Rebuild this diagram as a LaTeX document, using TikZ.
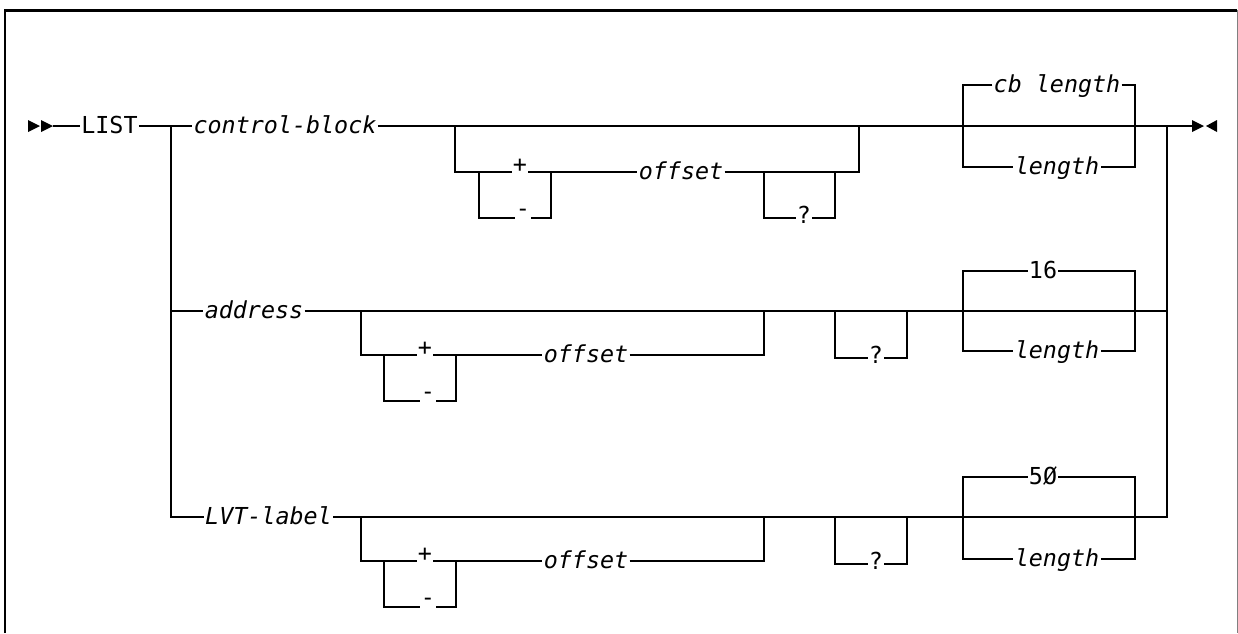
\documentclass[tikz,border=0pt]{standalone}
\usepackage{fontspec}
\setmonofont{DejaVu Sans Mono}[ItalicFont=* Oblique]
\usepackage{tikz}

\begin{document}
\begin{tikzpicture}[x=0.02cm, y=-0.02cm, line width=0.04cm,
  word/.style={inner xsep=0.2pt, inner ysep=0pt, text height=8.2pt, text depth=0pt,
               font=\fontsize{13.3pt}{16pt}\selectfont\ttfamily},
  var/.style={word, font=\fontsize{13.3pt}{16pt}\selectfont\ttfamily\itshape},
  frame/.style={line width=0.06cm}]
  \useasboundingbox (0,0) rectangle (1238,633);
  \draw[frame] (5,633) -- (5,10) -- (1237,10);
  \draw[gray, line width=0.02cm] (1237,10) -- (1237,633);

  \coordinate (start) at (53,126);
  \coordinate (split) at (171,126);
  \coordinate (join) at (1167,126);
  \coordinate (stop) at (1192,126);
  \node[word] (list) at (109.5,126) {LIST};
  \node[var] (cblock) at (285,126) {control-block};
  \node[var] (addr) at (254,311) {address};
  \node[var] (lvt) at (268.5,517) {LVT-label};

  \fill (start) -- ++(-12,-6) -- ++(0,12) -- cycle;
  \fill (start) ++(-13,0) -- ++(-12,-6) -- ++(0,12) -- cycle;
  \fill (stop) ++(0,-6) -- ++(12,6) -- ++(-12,6) -- cycle;
  \fill (stop) ++(14,0) -- ++(11,-6) -- ++(0,12) -- cycle;

  \draw (start) -- (list.west);
  \draw (list.east) -- (cblock.west);
  \draw (cblock.east) -- (stop);
  \draw (split) |- (addr.west);
  \draw (split) |- (lvt.west);
  \draw (addr.east) -- (join |- addr);
  \draw (lvt.east) -- (join |- lvt) -- (join);

  % control-block
  \coordinate (ob1) at (455,126);
  \coordinate (oj1) at (859,126);
  \coordinate (pm1) at (479,172);
  \coordinate (pr1) at (551,172);
  \coordinate (ql1) at (764,172);
  \coordinate (qr1) at (835,172);
  \coordinate (bl1) at (963,126);
  \coordinate (br1) at (1135,126);
  \node[word] (plus1) at (520,172) {\raisebox{0.3em}{+}};
  \node[word] (minus1) at (523,218) {\raisebox{0.38em}{-}};
  \node[var] (off1) at (681,172) {offset};
  \node[word] (q1) at (804,218) {\raisebox{0.07em}{?}};
  \node[var] (cbl) at (1057,85) {cb length};
  \node[var] (len1) at (1057,167) {length};
  \draw (ob1) |- (plus1.west);
  \draw (plus1.east) -- (off1.west);
  \draw (off1.east) -| (oj1);
  \draw (pm1) |- (minus1.west);
  \draw (minus1.east) -| (pr1);
  \draw (ql1) |- (q1.west);
  \draw (q1.east) -| (qr1);
  \draw (cbl.west) -| (bl1) |- (len1.west);
  \draw (cbl.east) -| (br1) |- (len1.east);

  % address
  \coordinate (ob2) at (361,311);
  \coordinate (oj2) at (764,311);
  \coordinate (pm2) at (384,355);
  \coordinate (pr2) at (456,355);
  \coordinate (ql2) at (835,311);
  \coordinate (qr2) at (907,311);
  \coordinate (bl2) at (963,311);
  \coordinate (br2) at (1135,311);
  \node[word] (plus2) at (425,355) {\raisebox{0.3em}{+}};
  \node[word] (minus2) at (428,401) {\raisebox{0.38em}{-}};
  \node[var] (off2) at (586,355) {offset};
  \node[word] (q2) at (876,358) {\raisebox{0.07em}{?}};
  \node[word] (n16) at (1043,271) {16};
  \node[var] (len2) at (1057,351) {length};
  \draw (ob2) |- (plus2.west);
  \draw (plus2.east) -- (off2.west);
  \draw (off2.east) -| (oj2);
  \draw (pm2) |- (minus2.west);
  \draw (minus2.east) -| (pr2);
  \draw (ql2) |- (q2.west);
  \draw (q2.east) -| (qr2);
  \draw (n16.west) -| (bl2) |- (len2.west);
  \draw (n16.east) -| (br2) |- (len2.east);

  % LVT-label
  \coordinate (ob3) at (361,517);
  \coordinate (oj3) at (764,517);
  \coordinate (pm3) at (384,561);
  \coordinate (pr3) at (456,561);
  \coordinate (ql3) at (835,517);
  \coordinate (qr3) at (907,517);
  \coordinate (bl3) at (963,517);
  \coordinate (br3) at (1135,517);
  \node[word] (plus3) at (425,561) {\raisebox{0.3em}{+}};
  \node[word] (minus3) at (428,607) {\raisebox{0.38em}{-}};
  \node[var] (off3) at (586,561) {offset};
  \node[word] (q3) at (876,564) {\raisebox{0.07em}{?}};
  \node[word] (n50) at (1043,477) {5Ø};
  \node[var] (len3) at (1057,559) {length};
  \draw (ob3) |- (plus3.west);
  \draw (plus3.east) -- (off3.west);
  \draw (off3.east) -| (oj3);
  \draw (pm3) |- (minus3.west);
  \draw (minus3.east) -| (pr3);
  \draw (ql3) |- (q3.west);
  \draw (q3.east) -| (qr3);
  \draw (n50.west) -| (bl3) |- (len3.west);
  \draw (n50.east) -| (br3) |- (len3.east);
\end{tikzpicture}
\end{document}
